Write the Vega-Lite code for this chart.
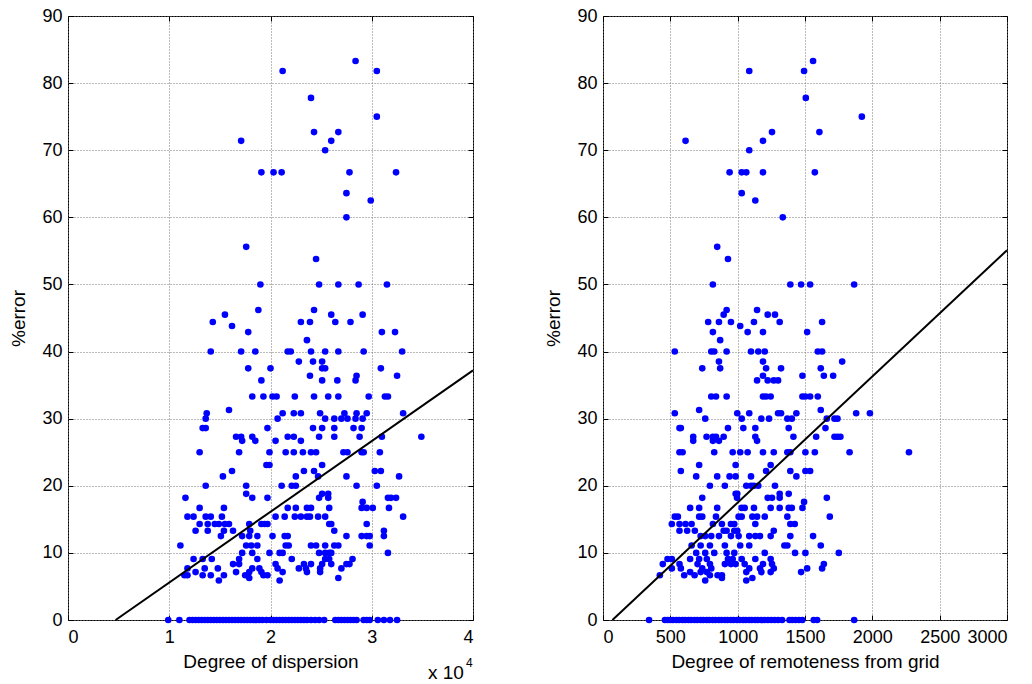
{
"$schema": "https://vega.github.io/schema/vega-lite/v6.json",
"padding": {"left": 9, "top": 6, "right": 0, "bottom": 0},
"background": "white",
"config": {
 "font": "Liberation Sans",
 "view": {"stroke": "#000", "strokeWidth": 1},
 "axis": {"domain": false, "grid": true, "gridColor": "#777777", "gridDash": [1, 2], "gridWidth": 1, "tickColor": "#000", "tickSize": -5, "labelFontSize": 18, "labelColor": "#000", "labelPadding": 11, "titleFontSize": 19, "titleFontWeight": "normal", "titleColor": "#000", "labelFont": "Liberation Sans", "titleFont": "Liberation Sans"},
 "axisY": {"titlePadding": 13},
 "axisX": {"titlePadding": 6, "labelPadding": 13}
},
"datasets": {
 "L": [
 {"d":2.12,"e":81.8},{"d":3.05,"e":81.8},{"d":2.84,"e":83.3},{"d":2.40,"e":77.8},{"d":3.05,"e":75},{"d":1.71,"e":71.4},{"d":2.60,"e":71.4},{"d":2.43,"e":72.7},{"d":2.67,"e":72.7},{"d":2.54,"e":70},
 {"d":1.91,"e":66.7},{"d":2.03,"e":66.7},{"d":2.11,"e":66.7},{"d":2.78,"e":66.7},{"d":3.24,"e":66.7},{"d":2.75,"e":63.6},{"d":2.99,"e":62.5},{"d":2.75,"e":60},{"d":1.76,"e":55.6},{"d":2.45,"e":53.8},
 {"d":1.90,"e":50},{"d":2.48,"e":50},{"d":2.67,"e":50},{"d":2.87,"e":50},{"d":3.15,"e":50},{"d":1.88,"e":46.2},{"d":2.43,"e":46.2},{"d":1.55,"e":45.5},{"d":2.60,"e":45.5},{"d":2.91,"e":45.5},
 {"d":1.43,"e":44.4},{"d":2.30,"e":44.4},{"d":2.39,"e":44.4},{"d":2.64,"e":44.4},{"d":2.79,"e":44.4},{"d":1.62,"e":43.8},{"d":1.78,"e":42.9},{"d":3.10,"e":42.9},{"d":3.23,"e":42.9},{"d":2.36,"e":41.7},
 {"d":1.41,"e":40},{"d":1.71,"e":40},{"d":1.85,"e":40},{"d":2.17,"e":40},{"d":2.20,"e":40},{"d":2.40,"e":40},{"d":2.54,"e":40},{"d":2.67,"e":40},{"d":2.92,"e":40},{"d":3.30,"e":40},
 {"d":2.28,"e":38.5},{"d":2.42,"e":38.5},{"d":2.51,"e":38.5},{"d":1.78,"e":37.5},{"d":2.00,"e":37.5},{"d":2.51,"e":37.5},{"d":2.54,"e":37.5},{"d":3.09,"e":37.5},{"d":2.39,"e":36.4},{"d":2.85,"e":36.4},{"d":3.25,"e":36.4},
 {"d":1.91,"e":35.7},{"d":2.51,"e":35.7},{"d":2.66,"e":35.7},{"d":2.84,"e":35.7},
 {"d":1.82,"e":33.3},{"d":1.93,"e":33.3},{"d":2.02,"e":33.3},{"d":2.06,"e":33.3},{"d":2.24,"e":33.3},{"d":2.43,"e":33.3},{"d":2.57,"e":33.3},{"d":2.67,"e":33.3},{"d":2.97,"e":33.3},{"d":3.13,"e":33.3},{"d":3.16,"e":33.3},
 {"d":1.59,"e":31.3},{"d":1.37,"e":30.8},{"d":2.12,"e":30.8},{"d":2.23,"e":30.8},{"d":2.30,"e":30.8},{"d":2.49,"e":30.8},{"d":2.73,"e":30.8},{"d":2.85,"e":30.8},{"d":2.95,"e":30.8},{"d":3.31,"e":30.8},
 {"d":1.36,"e":30},{"d":2.07,"e":30},{"d":2.54,"e":30},{"d":2.63,"e":30},{"d":2.70,"e":30},{"d":2.76,"e":30},{"d":2.84,"e":30},{"d":2.91,"e":30},
 {"d":1.33,"e":28.6},{"d":1.36,"e":28.6},{"d":1.97,"e":28.6},{"d":2.42,"e":28.6},{"d":2.51,"e":28.6},{"d":2.63,"e":28.6},{"d":2.82,"e":28.6},{"d":2.90,"e":28.6},
 {"d":1.66,"e":27.3},{"d":1.71,"e":27.3},{"d":1.82,"e":27.3},{"d":2.17,"e":27.3},{"d":2.23,"e":27.3},{"d":2.48,"e":27.3},{"d":2.63,"e":27.3},{"d":2.88,"e":27.3},{"d":3.10,"e":27.3},{"d":3.49,"e":27.3},
 {"d":1.72,"e":26.7},{"d":1.85,"e":26.7},{"d":2.05,"e":26.7},{"d":2.30,"e":26.7},
 {"d":1.30,"e":25},{"d":1.69,"e":25},{"d":1.99,"e":25},{"d":2.15,"e":25},{"d":2.23,"e":25},{"d":2.32,"e":25},{"d":2.40,"e":25},{"d":2.45,"e":25},{"d":2.72,"e":25},{"d":2.76,"e":25},{"d":2.90,"e":25},{"d":2.92,"e":25},{"d":3.08,"e":25},
 {"d":1.96,"e":23.1},{"d":1.99,"e":23.1},{"d":2.51,"e":23.1},{"d":1.62,"e":22.2},{"d":2.33,"e":22.2},{"d":2.43,"e":22.2},{"d":3.03,"e":22.2},{"d":3.09,"e":22.2},
 {"d":1.53,"e":21.4},{"d":2.25,"e":21.4},{"d":2.47,"e":21.4},{"d":2.75,"e":21.4},{"d":3.27,"e":21.4},
 {"d":1.36,"e":20},{"d":1.76,"e":20},{"d":2.11,"e":20},{"d":2.21,"e":20},{"d":2.25,"e":20},{"d":2.85,"e":20},{"d":3.05,"e":20},
 {"d":1.76,"e":18.8},{"d":2.51,"e":18.8},{"d":2.57,"e":18.8},
 {"d":1.16,"e":18.2},{"d":1.82,"e":18.2},{"d":1.97,"e":18.2},{"d":2.48,"e":18.2},{"d":2.57,"e":18.2},{"d":3.16,"e":18.2},{"d":3.19,"e":18.2},{"d":3.24,"e":18.2},{"d":2.91,"e":17.6},
 {"d":1.30,"e":16.7},{"d":1.54,"e":16.7},{"d":2.17,"e":16.7},{"d":2.25,"e":16.7},{"d":2.36,"e":16.7},{"d":2.40,"e":16.7},{"d":2.58,"e":16.7},{"d":2.90,"e":16.7},{"d":2.95,"e":16.7},{"d":3.01,"e":16.7},{"d":3.17,"e":16.7},
 {"d":1.18,"e":15.4},{"d":1.24,"e":15.4},{"d":1.36,"e":15.4},{"d":1.41,"e":15.4},{"d":1.52,"e":15.4},{"d":2.05,"e":15.4},{"d":2.14,"e":15.4},{"d":2.24,"e":15.4},{"d":2.30,"e":15.4},{"d":2.36,"e":15.4},{"d":2.39,"e":15.4},{"d":2.47,"e":15.4},{"d":2.54,"e":15.4},{"d":3.31,"e":15.4},
 {"d":1.30,"e":14.3},{"d":1.38,"e":14.3},{"d":1.45,"e":14.3},{"d":1.49,"e":14.3},{"d":1.55,"e":14.3},{"d":1.59,"e":14.3},{"d":1.79,"e":14.3},{"d":1.91,"e":14.3},{"d":1.94,"e":14.3},{"d":1.97,"e":14.3},{"d":2.58,"e":14.3},{"d":2.60,"e":14.3},{"d":2.95,"e":14.3},
 {"d":1.26,"e":13.3},{"d":1.38,"e":13.3},{"d":1.54,"e":13.3},{"d":1.63,"e":13.3},{"d":1.80,"e":13.3},{"d":2.63,"e":13.3},{"d":3.12,"e":13.3},
 {"d":1.51,"e":12.5},{"d":1.72,"e":12.5},{"d":1.79,"e":12.5},{"d":1.87,"e":12.5},{"d":2.02,"e":12.5},{"d":2.14,"e":12.5},{"d":2.17,"e":12.5},{"d":2.75,"e":12.5},{"d":2.90,"e":12.5},{"d":2.95,"e":12.5},{"d":2.98,"e":12.5},{"d":3.12,"e":12.5},
 {"d":1.11,"e":11.1},{"d":1.76,"e":11.1},{"d":1.81,"e":11.1},{"d":1.87,"e":11.1},{"d":2.15,"e":11.1},{"d":2.18,"e":11.1},{"d":2.40,"e":11.1},{"d":2.45,"e":11.1},{"d":2.54,"e":11.1},{"d":2.63,"e":11.1},{"d":2.67,"e":11.1},{"d":2.98,"e":11.1},
 {"d":1.72,"e":10},{"d":1.82,"e":10},{"d":1.99,"e":10},{"d":2.09,"e":10},{"d":2.12,"e":10},{"d":2.48,"e":10},{"d":2.54,"e":10},{"d":2.58,"e":10},{"d":2.60,"e":10},{"d":3.16,"e":10},
 {"d":1.24,"e":9.09},{"d":1.33,"e":9.09},{"d":1.42,"e":9.09},{"d":1.69,"e":9.09},{"d":1.87,"e":9.09},{"d":2.21,"e":9.09},{"d":2.54,"e":9.09},{"d":2.58,"e":9.09},{"d":2.81,"e":9.09},
 {"d":1.63,"e":8.33},{"d":1.69,"e":8.33},{"d":2.05,"e":8.33},{"d":2.33,"e":8.33},{"d":2.40,"e":8.33},{"d":2.51,"e":8.33},{"d":2.60,"e":8.33},{"d":2.75,"e":8.33},{"d":2.78,"e":8.33},
 {"d":1.18,"e":7.69},{"d":1.35,"e":7.69},{"d":1.48,"e":7.69},{"d":1.82,"e":7.69},{"d":1.89,"e":7.69},{"d":2.07,"e":7.69},{"d":2.28,"e":7.69},{"d":2.35,"e":7.69},{"d":2.49,"e":7.69},{"d":2.70,"e":7.69},
 {"d":1.26,"e":7.14},{"d":1.66,"e":7.14},{"d":1.79,"e":7.14},{"d":1.91,"e":7.14},{"d":2.12,"e":7.14},{"d":2.36,"e":7.14},{"d":2.49,"e":7.14},
 {"d":1.15,"e":6.67},{"d":1.18,"e":6.67},{"d":1.33,"e":6.67},{"d":1.41,"e":6.67},{"d":1.54,"e":6.67},{"d":1.75,"e":6.67},{"d":1.93,"e":6.67},{"d":1.97,"e":6.67},
 {"d":1.79,"e":6.25},{"d":2.67,"e":6.25},{"d":1.49,"e":5.88},{"d":2.09,"e":5.88},
 {"d":0.99,"e":0},{"d":1.10,"e":0},{"d":1.20,"e":0},{"d":1.23,"e":0},{"d":1.26,"e":0},{"d":1.29,"e":0},{"d":1.32,"e":0},{"d":1.35,"e":0},{"d":1.38,"e":0},{"d":1.41,"e":0},{"d":1.44,"e":0},{"d":1.47,"e":0},{"d":1.50,"e":0},{"d":1.53,"e":0},{"d":1.56,"e":0},{"d":1.59,"e":0},{"d":1.62,"e":0},{"d":1.65,"e":0},{"d":1.68,"e":0},{"d":1.71,"e":0},{"d":1.74,"e":0},{"d":1.77,"e":0},{"d":1.80,"e":0},{"d":1.83,"e":0},{"d":1.86,"e":0},{"d":1.89,"e":0},{"d":1.92,"e":0},{"d":1.96,"e":0},{"d":2.00,"e":0},{"d":2.03,"e":0},{"d":2.06,"e":0},{"d":2.09,"e":0},{"d":2.12,"e":0},{"d":2.15,"e":0},{"d":2.18,"e":0},{"d":2.21,"e":0},{"d":2.24,"e":0},{"d":2.27,"e":0},{"d":2.30,"e":0},{"d":2.33,"e":0},{"d":2.36,"e":0},{"d":2.40,"e":0},{"d":2.44,"e":0},{"d":2.48,"e":0},{"d":2.53,"e":0},{"d":2.64,"e":0},{"d":2.67,"e":0},{"d":2.70,"e":0},{"d":2.73,"e":0},{"d":2.76,"e":0},{"d":2.79,"e":0},{"d":2.82,"e":0},{"d":2.85,"e":0},{"d":2.92,"e":0},{"d":2.95,"e":0},{"d":2.98,"e":0},{"d":3.06,"e":0},{"d":3.12,"e":0},{"d":3.18,"e":0},{"d":3.25,"e":0}
 ],
 "LL": [{"d":0.47,"e":0},{"d":4,"e":37.2}],
 "R": [
 {"r":1560,"e":83.3},{"r":1086,"e":81.8},{"r":1493,"e":81.8},{"r":1506,"e":77.8},{"r":1922,"e":75},{"r":1255,"e":72.7},{"r":1607,"e":72.7},{"r":613,"e":71.4},{"r":1188,"e":71.4},{"r":1086,"e":70},
 {"r":940,"e":66.7},{"r":1030,"e":66.7},{"r":1064,"e":66.7},{"r":1188,"e":66.7},{"r":1573,"e":66.7},{"r":1030,"e":63.6},{"r":1131,"e":62.5},{"r":1335,"e":60},{"r":848,"e":55.6},{"r":928,"e":53.8},
 {"r":816,"e":50},{"r":1391,"e":50},{"r":1471,"e":50},{"r":1538,"e":50},{"r":1865,"e":50},{"r":918,"e":46.2},{"r":1144,"e":46.2},{"r":896,"e":45.5},{"r":1223,"e":45.5},{"r":1277,"e":45.5},
 {"r":781,"e":44.4},{"r":861,"e":44.4},{"r":950,"e":44.4},{"r":1121,"e":44.4},{"r":1312,"e":44.4},{"r":1627,"e":44.4},{"r":1019,"e":43.8},{"r":816,"e":42.9},{"r":1074,"e":42.9},{"r":1188,"e":42.9},{"r":1516,"e":42.9},{"r":870,"e":41.7},
 {"r":533,"e":40},{"r":804,"e":40},{"r":826,"e":40},{"r":918,"e":40},{"r":1099,"e":40},{"r":1153,"e":40},{"r":1201,"e":40},{"r":1595,"e":40},{"r":1627,"e":40},
 {"r":861,"e":38.5},{"r":1188,"e":38.5},{"r":1776,"e":38.5},{"r":737,"e":37.5},{"r":870,"e":37.5},{"r":1211,"e":37.5},{"r":1322,"e":37.5},{"r":1617,"e":37.5},
 {"r":1188,"e":36.4},{"r":1481,"e":36.4},{"r":1640,"e":36.4},{"r":1709,"e":36.4},{"r":1144,"e":35.7},{"r":1223,"e":35.7},{"r":1268,"e":35.7},{"r":1300,"e":35.7},
 {"r":804,"e":33.3},{"r":839,"e":33.3},{"r":918,"e":33.3},{"r":1188,"e":33.3},{"r":1211,"e":33.3},{"r":1245,"e":33.3},{"r":1481,"e":33.3},{"r":1503,"e":33.3},{"r":1538,"e":33.3},{"r":1595,"e":33.3},
 {"r":714,"e":31.3},{"r":1617,"e":31.3},{"r":533,"e":30.8},{"r":997,"e":30.8},{"r":1086,"e":30.8},{"r":1300,"e":30.8},{"r":1322,"e":30.8},{"r":1436,"e":30.8},{"r":1880,"e":30.8},{"r":1982,"e":30.8},
 {"r":759,"e":30},{"r":1030,"e":30},{"r":1176,"e":30},{"r":1233,"e":30},{"r":1369,"e":30},{"r":1402,"e":30},{"r":1662,"e":30},{"r":1719,"e":30},{"r":1741,"e":30},
 {"r":568,"e":28.6},{"r":578,"e":28.6},{"r":928,"e":28.6},{"r":1042,"e":28.6},{"r":1131,"e":28.6},{"r":1379,"e":28.6},{"r":1652,"e":28.6},
 {"r":670,"e":27.3},{"r":769,"e":27.3},{"r":816,"e":27.3},{"r":839,"e":27.3},{"r":896,"e":27.3},{"r":1131,"e":27.3},{"r":1414,"e":27.3},{"r":1583,"e":27.3},{"r":1719,"e":27.3},{"r":1741,"e":27.3},{"r":1763,"e":27.3},
 {"r":670,"e":26.7},{"r":816,"e":26.7},{"r":861,"e":26.7},{"r":1144,"e":26.7},
 {"r":568,"e":25},{"r":591,"e":25},{"r":826,"e":25},{"r":963,"e":25},{"r":1019,"e":25},{"r":1074,"e":25},{"r":1188,"e":25},{"r":1268,"e":25},{"r":1369,"e":25},{"r":1391,"e":25},{"r":1503,"e":25},{"r":1573,"e":25},{"r":1831,"e":25},{"r":2272,"e":25},
 {"r":714,"e":23.1},{"r":985,"e":23.1},{"r":1245,"e":23.1},{"r":578,"e":22.2},{"r":1211,"e":22.2},{"r":1391,"e":22.2},{"r":1503,"e":22.2},{"r":1538,"e":22.2},
 {"r":692,"e":21.4},{"r":848,"e":21.4},{"r":940,"e":21.4},{"r":985,"e":21.4},{"r":1099,"e":21.4},{"r":1436,"e":21.4},
 {"r":794,"e":20},{"r":905,"e":20},{"r":1064,"e":20},{"r":1099,"e":20},{"r":1121,"e":20},{"r":1153,"e":20},{"r":1277,"e":20},
 {"r":985,"e":18.8},{"r":997,"e":18.8},{"r":1312,"e":18.8},{"r":1379,"e":18.8},
 {"r":737,"e":18.2},{"r":995,"e":18.2},{"r":1223,"e":18.2},{"r":1255,"e":18.2},{"r":1312,"e":18.2},{"r":1662,"e":18.2},{"r":1493,"e":17.6},
 {"r":647,"e":16.7},{"r":714,"e":16.7},{"r":848,"e":16.7},{"r":1030,"e":16.7},{"r":1052,"e":16.7},{"r":1121,"e":16.7},{"r":1245,"e":16.7},{"r":1312,"e":16.7},{"r":1379,"e":16.7},{"r":1402,"e":16.7},{"r":1481,"e":16.7},
 {"r":533,"e":15.4},{"r":556,"e":15.4},{"r":714,"e":15.4},{"r":737,"e":15.4},{"r":839,"e":15.4},{"r":1007,"e":15.4},{"r":1030,"e":15.4},{"r":1109,"e":15.4},{"r":1144,"e":15.4},{"r":1201,"e":15.4},{"r":1369,"e":15.4},{"r":1684,"e":15.4},
 {"r":511,"e":14.3},{"r":568,"e":14.3},{"r":613,"e":14.3},{"r":658,"e":14.3},{"r":816,"e":14.3},{"r":883,"e":14.3},{"r":950,"e":14.3},{"r":975,"e":14.3},{"r":1131,"e":14.3},{"r":1391,"e":14.3},{"r":1424,"e":14.3},
 {"r":568,"e":13.3},{"r":625,"e":13.3},{"r":682,"e":13.3},{"r":896,"e":13.3},{"r":918,"e":13.3},{"r":975,"e":13.3},{"r":997,"e":13.3},{"r":1268,"e":13.3},
 {"r":725,"e":12.5},{"r":759,"e":12.5},{"r":804,"e":12.5},{"r":861,"e":12.5},{"r":950,"e":12.5},{"r":1007,"e":12.5},{"r":1086,"e":12.5},{"r":1131,"e":12.5},{"r":1166,"e":12.5},{"r":1245,"e":12.5},{"r":1391,"e":12.5},{"r":1560,"e":12.5},
 {"r":658,"e":11.1},{"r":725,"e":11.1},{"r":794,"e":11.1},{"r":905,"e":11.1},{"r":1019,"e":11.1},{"r":1086,"e":11.1},{"r":1347,"e":11.1},{"r":1369,"e":11.1},{"r":1617,"e":11.1},
 {"r":692,"e":10},{"r":759,"e":10},{"r":826,"e":10},{"r":918,"e":10},{"r":975,"e":10},{"r":1201,"e":10},{"r":1426,"e":10},{"r":1503,"e":10},{"r":1751,"e":10},
 {"r":479,"e":9.09},{"r":511,"e":9.09},{"r":647,"e":9.09},{"r":714,"e":9.09},{"r":771,"e":9.09},{"r":928,"e":9.09},{"r":963,"e":9.09},{"r":1030,"e":9.09},{"r":1131,"e":9.09},{"r":1245,"e":9.09},
 {"r":444,"e":8.33},{"r":568,"e":8.33},{"r":702,"e":8.33},{"r":794,"e":8.33},{"r":905,"e":8.33},{"r":950,"e":8.33},{"r":985,"e":8.33},{"r":1052,"e":8.33},{"r":1188,"e":8.33},{"r":1255,"e":8.33},{"r":1640,"e":8.33},
 {"r":511,"e":7.69},{"r":578,"e":7.69},{"r":737,"e":7.69},{"r":804,"e":7.69},{"r":1086,"e":7.69},{"r":1166,"e":7.69},{"r":1268,"e":7.69},{"r":1516,"e":7.69},{"r":1627,"e":7.69},
 {"r":647,"e":7.14},{"r":725,"e":7.14},{"r":771,"e":7.14},{"r":1064,"e":7.14},{"r":1176,"e":7.14},{"r":1245,"e":7.14},{"r":1471,"e":7.14},
 {"r":422,"e":6.67},{"r":603,"e":6.67},{"r":680,"e":6.67},{"r":794,"e":6.67},{"r":851,"e":6.67},{"r":883,"e":6.67},{"r":883,"e":6.25},{"r":1109,"e":6.25},{"r":759,"e":5.88},{"r":1064,"e":5.88},
 {"r":342,"e":0},{"r":460,"e":0},{"r":480,"e":0},{"r":500,"e":0},{"r":520,"e":0},{"r":545,"e":0},{"r":565,"e":0},{"r":590,"e":0},{"r":610,"e":0},{"r":635,"e":0},{"r":655,"e":0},{"r":680,"e":0},{"r":700,"e":0},{"r":725,"e":0},{"r":745,"e":0},{"r":770,"e":0},{"r":790,"e":0},{"r":815,"e":0},{"r":835,"e":0},{"r":860,"e":0},{"r":880,"e":0},{"r":905,"e":0},{"r":925,"e":0},{"r":950,"e":0},{"r":970,"e":0},{"r":995,"e":0},{"r":1015,"e":0},{"r":1040,"e":0},{"r":1060,"e":0},{"r":1085,"e":0},{"r":1105,"e":0},{"r":1130,"e":0},{"r":1150,"e":0},{"r":1175,"e":0},{"r":1200,"e":0},{"r":1225,"e":0},{"r":1250,"e":0},{"r":1275,"e":0},{"r":1300,"e":0},{"r":1330,"e":0},{"r":1385,"e":0},{"r":1405,"e":0},{"r":1430,"e":0},{"r":1455,"e":0},{"r":1480,"e":0},{"r":1565,"e":0},{"r":1590,"e":0},{"r":1865,"e":0}
 ],
 "RL": [{"r":70,"e":0},{"r":3000,"e":55.1}]
},
"spacing": 130,
"bounds": "flush",
"hconcat": [
 {
  "width": 405, "height": 604,
  "resolve": {"axis": {"x": "independent", "y": "independent"}},
  "layer": [
   {"data": {"name": "L"}, "mark": {"type": "circle", "color": "#0000ff", "opacity": 1, "size": 44},
    "encoding": {
     "x": {"field": "d", "type": "quantitative", "scale": {"domain": [0, 4], "nice": false}, "axis": {"values": [0,1,2,3,4], "format": "d", "title": "Degree of dispersion"}},
     "y": {"field": "e", "type": "quantitative", "scale": {"domain": [0, 90], "nice": false}, "axis": {"values": [0,10,20,30,40,50,60,70,80,90], "title": "%error"}}
    }},
   {"data": {"name": "LL"}, "mark": {"type": "line", "color": "#000", "strokeWidth": 2},
    "encoding": {
     "x": {"field": "d", "type": "quantitative", "axis": {"orient": "top", "values": [0,1,2,3,4], "labels": false, "title": null, "grid": false}},
     "y": {"field": "e", "type": "quantitative", "axis": {"orient": "right", "values": [0,10,20,30,40,50,60,70,80,90], "labels": false, "title": null, "grid": false}}
    }},
   {"data": {"values": [{}]}, "mark": {"type": "text", "text": "x 10", "align": "right", "baseline": "alphabetic", "fontSize": 19, "font": "Liberation Sans", "color": "#000"},
    "encoding": {"x": {"datum": 3.91, "type": "quantitative", "axis": null}, "y": {"datum": -8.8, "type": "quantitative", "axis": null}}},
   {"data": {"values": [{}]}, "mark": {"type": "text", "text": "4", "align": "left", "baseline": "alphabetic", "fontSize": 12, "font": "Liberation Sans", "color": "#000"},
    "encoding": {"x": {"datum": 3.93, "type": "quantitative", "axis": null}, "y": {"datum": -7.0, "type": "quantitative", "axis": null}}}
  ]
 },
 {
  "width": 404, "height": 604,
  "resolve": {"axis": {"x": "independent", "y": "independent"}},
  "layer": [
   {"data": {"name": "R"}, "mark": {"type": "circle", "color": "#0000ff", "opacity": 1, "size": 44},
    "encoding": {
     "x": {"field": "r", "type": "quantitative", "scale": {"domain": [0, 3000], "nice": false}, "axis": {"values": [0,500,1000,1500,2000,2500,3000], "format": "d", "title": "Degree of remoteness from grid"}},
     "y": {"field": "e", "type": "quantitative", "scale": {"domain": [0, 90], "nice": false}, "axis": {"values": [0,10,20,30,40,50,60,70,80,90], "title": "%error"}}
    }},
   {"data": {"name": "RL"}, "mark": {"type": "line", "color": "#000", "strokeWidth": 2},
    "encoding": {
     "x": {"field": "r", "type": "quantitative", "axis": {"orient": "top", "values": [0,500,1000,1500,2000,2500,3000], "labels": false, "title": null, "grid": false}},
     "y": {"field": "e", "type": "quantitative", "axis": {"orient": "right", "values": [0,10,20,30,40,50,60,70,80,90], "labels": false, "title": null, "grid": false}}
    }}
  ]
 }
]
}
